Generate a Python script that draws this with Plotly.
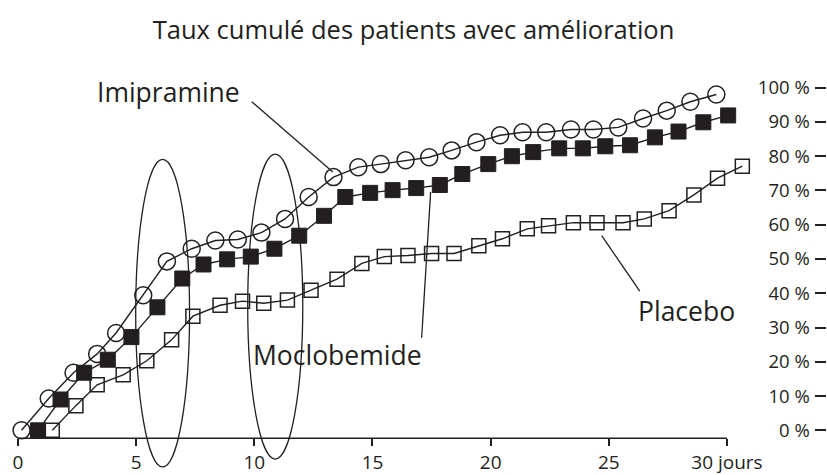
import plotly.graph_objects as go

# ---- data (days, cumulative % of improved patients) ----
imi_days = [0.15, 1.30, 2.35, 3.35, 4.15, 5.30, 6.30, 7.35, 8.35, 9.30,
            10.30, 11.30, 12.30, 13.35, 14.40, 15.35, 16.40, 17.40, 18.35, 19.40,
            20.40, 21.35, 22.35, 23.40, 24.35, 25.40, 26.45, 27.45, 28.45, 29.55]
imi_vals = [0, 9.3, 16.8, 22.3, 28.4, 39.4, 49.3, 53.0, 55.4, 55.7,
            57.7, 61.7, 68.1, 73.9, 76.8, 77.7, 78.8, 79.7, 81.7, 84.1,
            86.1, 87.0, 87.0, 87.8, 87.8, 88.4, 91.0, 93.3, 95.9, 98.0]

mocl_days = [0.85, 1.80, 2.80, 3.80, 4.80, 5.90, 6.95, 7.85, 8.85, 9.85,
             10.85, 11.90, 12.95, 13.85, 14.90, 15.85, 16.85, 17.85, 18.80, 19.90,
             20.90, 21.80, 22.90, 23.90, 24.85, 25.90, 26.95, 27.95, 29.00, 30.05]
mocl_vals = [0, 9.0, 16.8, 20.6, 27.2, 35.9, 44.3, 48.4, 49.9, 50.7,
             53.0, 56.8, 62.6, 68.1, 69.3, 70.1, 70.7, 71.6, 74.8, 77.7,
             80.0, 81.2, 82.3, 82.3, 82.9, 83.2, 85.5, 87.2, 89.9, 91.9]

plac_days = [1.45, 2.45, 3.35, 4.45, 5.45, 6.50, 7.40, 8.55, 9.50, 10.40,
             11.40, 12.40, 13.50, 14.55, 15.50, 16.50, 17.50, 18.45, 19.50, 20.50,
             21.55, 22.45, 23.50, 24.50, 25.60, 26.50, 27.55, 28.60, 29.60, 30.65]
plac_vals = [0, 7.2, 13.3, 16.2, 20.3, 26.4, 33.3, 36.5, 37.7, 37.1,
             38.0, 40.9, 44.1, 48.7, 50.7, 51.0, 51.6, 51.6, 53.9, 55.9,
             58.8, 59.7, 60.6, 60.6, 60.6, 61.7, 64.1, 68.7, 73.6, 77.1]

x_tick_vals = [0, 5, 10, 15, 20, 25, 30]
x_tick_text = ["0", "5", "10", "15", "20", "25", "30 jours"]
y_tick_vals = [0, 10, 20, 30, 40, 50, 60, 70, 80, 90, 100]
y_tick_text = [f"{v} %" for v in y_tick_vals]

title_text = "Taux cumulé des patients avec amélioration"

# series labels: (text, x, y) and callout line (x0, y0, x1, y1)
series_labels = [("Imipramine", 6.36, 98.8), ("Moclobemide", 13.51, 22.0), ("Placebo", 28.28, 34.8)]
callouts = [(9.89, 95.9, 13.32, 75.4), (17.08, 27.0, 17.46, 69.6), (24.70, 56.8, 26.31, 40.6)]
# highlighted windows (ellipses): (x0, x1, y0, y1)
windows = [(4.98, 7.26, -10.7, 79.1), (9.72, 12.05, -8.4, 80.6)]

INK = "#231f20"
FONT = "Open Sans"

fig = go.Figure()
fig.add_trace(go.Scatter(x=imi_days, y=imi_vals, mode="lines+markers", name="Imipramine",
                         line=dict(color=INK, width=1.4),
                         marker=dict(symbol="circle-open", size=17, color=INK, line=dict(width=1.5, color=INK)),
                         cliponaxis=False))
fig.add_trace(go.Scatter(x=mocl_days, y=mocl_vals, mode="lines+markers", name="Moclobemide",
                         line=dict(color=INK, width=1.4),
                         marker=dict(symbol="square", size=15, color=INK, line=dict(width=1, color=INK)),
                         cliponaxis=False))
fig.add_trace(go.Scatter(x=plac_days, y=plac_vals, mode="lines+markers", name="Placebo",
                         line=dict(color=INK, width=1.4),
                         marker=dict(symbol="square-open", size=14, color=INK, line=dict(width=1.5, color=INK)),
                         cliponaxis=False))

shapes = []
for (x0, x1, y0, y1) in windows:
    shapes.append(dict(type="circle", xref="x", yref="y", x0=x0, x1=x1, y0=y0, y1=y1,
                       line=dict(color=INK, width=1.3)))
for (x0, y0, x1, y1) in callouts:
    shapes.append(dict(type="line", xref="x", yref="y", x0=x0, y0=y0, x1=x1, y1=y1,
                       line=dict(color=INK, width=1.3)))
AXIS_POS = 0.08
shapes.append(dict(type="line", xref="x", yref="paper", x0=0, x1=30, y0=AXIS_POS, y1=AXIS_POS,
                   line=dict(color=INK, width=1.6)))

annotations = [dict(text=t, x=x, y=y, xref="x", yref="y", showarrow=False,
                    xanchor="center", yanchor="middle",
                    font=dict(family=FONT, size=26.5, color=INK)) for (t, x, y) in series_labels]

fig.update_layout(
    width=827, height=475,
    margin=dict(l=18, r=1, t=50, b=0),
    paper_bgcolor="white", plot_bgcolor="white",
    showlegend=False,
    title=dict(text=title_text, x=0.5, xanchor="center", y=1 - 30 / 475, yanchor="middle",
               font=dict(family=FONT, size=25.5, color=INK)),
    shapes=shapes, annotations=annotations,
    xaxis=dict(range=[0, 34.19], anchor="free", position=AXIS_POS, showline=False,
               showgrid=False, zeroline=False, ticks="outside", ticklen=7, tickwidth=1.5,
               tickcolor=INK, tickvals=x_tick_vals, ticktext=x_tick_text,
               tickfont=dict(family=FONT, size=19, color=INK)),
    yaxis=dict(range=[-12.17, 111.0], side="right", showline=False, showgrid=False,
               zeroline=False, ticks="inside", ticklen=11, tickwidth=1.5, tickcolor=INK,
               ticklabelposition="inside", ticklabelstandoff=6,
               tickvals=y_tick_vals, ticktext=y_tick_text,
               tickfont=dict(family=FONT, size=18.5, color=INK)),
)

fig.write_html("out.html", config={"displayModeBar": False},
               post_script="document.body.style.margin='0px';document.body.style.overflow='hidden';")
